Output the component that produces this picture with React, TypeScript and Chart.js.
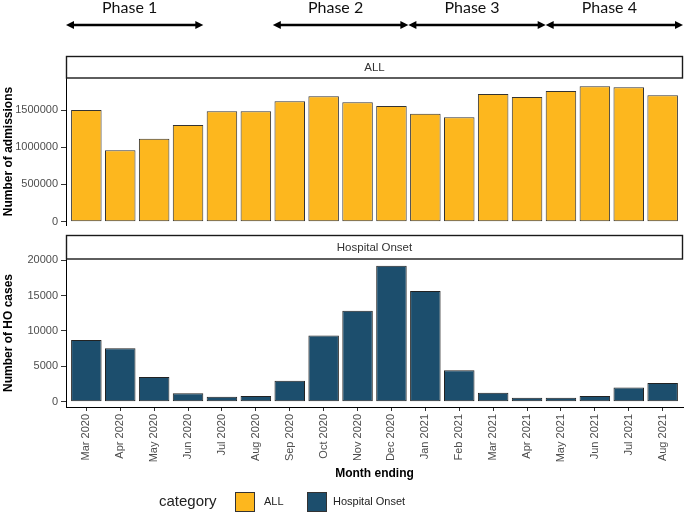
import React, { useEffect, useRef } from 'react';
import { Chart, registerables } from 'chart.js';

Chart.register(...registerables);

const months = [
  'Mar 2020', 'Apr 2020', 'May 2020', 'Jun 2020', 'Jul 2020', 'Aug 2020',
  'Sep 2020', 'Oct 2020', 'Nov 2020', 'Dec 2020', 'Jan 2021', 'Feb 2021',
  'Mar 2021', 'Apr 2021', 'May 2021', 'Jun 2021', 'Jul 2021', 'Aug 2021',
];
const admissions = [
  1500000, 960000, 1115000, 1300000, 1485000, 1485000,
  1620000, 1685000, 1605000, 1555000, 1450000, 1405000,
  1715000, 1675000, 1755000, 1820000, 1805000, 1700000,
];
const hoCases = [
  8700, 7550, 3500, 1200, 700, 800,
  2950, 9350, 12850, 19200, 15650, 4450,
  1250, 550, 550, 800, 2000, 2650,
];
const admissionTicks = [0, 500000, 1000000, 1500000];
const hoTicks = [0, 5000, 10000, 15000, 20000];
const phaseLabels = ['Phase 1', 'Phase 2', 'Phase 3', 'Phase 4'];
const phaseStarts = [-0.6, 5.5, 9.5, 13.55];
const phaseEnds = [3.45, 9.5, 13.55, 17.6];
const legendTitle = 'category';
const legendLabels = ['ALL', 'Hospital Onset'];
const panelLabels = ['ALL', 'Hospital Onset'];

const YELLOW = '#FDB71E';
const BLUE = '#1C4E6D';
const FONT = "'Liberation Sans', Arial, sans-serif";
const TICK_COLOR = '#4d4d4d';

const stripPlugin = (label: string, h: number) => ({
  id: 'strip',
  afterDraw(chart: any) {
    const { ctx, chartArea } = chart;
    const left = chartArea.left;
    const right = chartArea.right;
    const top = chartArea.top - h;
    ctx.save();
    ctx.fillStyle = '#fff';
    ctx.fillRect(left, top, right - left, h);
    ctx.strokeStyle = '#1a1a1a';
    ctx.lineWidth = 1.4;
    ctx.strokeRect(left + 0.5, top + 0.5, right - left - 1, h - 0.5);
    ctx.fillStyle = '#333';
    ctx.font = `11.5px ${FONT}`;
    ctx.textAlign = 'center';
    ctx.textBaseline = 'middle';
    ctx.fillText(label, (left + right) / 2, top + h / 2 + 1);
    ctx.restore();
  },
});

const phasePlugin = {
  id: 'phases',
  afterDraw(chart: any) {
    const { ctx } = chart;
    const xs = chart.scales.x;
    const y = 25;
    ctx.save();
    ctx.strokeStyle = '#000';
    ctx.fillStyle = '#000';
    phaseLabels.forEach((lab, i) => {
      const a = xs.getPixelForValue(phaseStarts[i]);
      const b = xs.getPixelForValue(phaseEnds[i]);
      ctx.lineWidth = 2.5;
      ctx.beginPath();
      ctx.moveTo(a + 4, y);
      ctx.lineTo(b - 4, y);
      ctx.stroke();
      ctx.beginPath();
      ctx.moveTo(a, y);
      ctx.lineTo(a + 8, y - 4);
      ctx.lineTo(a + 8, y + 4);
      ctx.closePath();
      ctx.fill();
      ctx.beginPath();
      ctx.moveTo(b, y);
      ctx.lineTo(b - 8, y - 4);
      ctx.lineTo(b - 8, y + 4);
      ctx.closePath();
      ctx.fill();
      ctx.font = `16px Lato, 'Open Sans', sans-serif`;
      ctx.textAlign = 'center';
      ctx.textBaseline = 'middle';
      ctx.fillStyle = '#111';
      ctx.fillText(lab, (a + b) / 2 - 5, 8);
      ctx.fillStyle = '#000';
    });
    ctx.restore();
  },
};

const legendPlugin = {
  id: 'customLegend',
  afterDraw(chart: any) {
    const { ctx } = chart;
    const cy = 270;
    ctx.save();
    ctx.textBaseline = 'middle';
    ctx.textAlign = 'left';
    ctx.fillStyle = '#222';
    ctx.font = `15px ${FONT}`;
    ctx.fillText(legendTitle, 159, cy);
    const boxes = [
      { x: 235, color: YELLOW, tx: 264 },
      { x: 307, color: BLUE, tx: 333 },
    ];
    boxes.forEach((bx, i) => {
      ctx.fillStyle = bx.color;
      ctx.fillRect(bx.x, cy - 10, 20, 20);
      ctx.strokeStyle = '#333';
      ctx.lineWidth = 1;
      ctx.strokeRect(bx.x + 0.5, cy - 9.5, 19, 19);
      ctx.fillStyle = '#222';
      ctx.font = `11px ${FONT}`;
      ctx.fillText(legendLabels[i], bx.tx, cy);
    });
    ctx.restore();
  },
};

const yAxis = (title: string, min: number, max: number, ticks: number[]) => ({
  type: 'linear',
  min,
  max,
  afterBuildTicks: (s: any) => {
    s.ticks = ticks.map((v) => ({ value: v }));
  },
  afterFit: (s: any) => {
    s.width = 66;
    s.paddingTop = 0;
    s.paddingBottom = 0;
  },
  ticks: {
    color: TICK_COLOR,
    font: { size: 11, family: FONT },
    padding: 3,
    callback: (v: any) => String(v),
  },
  grid: {
    display: true,
    drawOnChartArea: false,
    drawTicks: true,
    tickLength: 5,
    color: '#333',
  },
  border: { display: true, color: '#000', width: 1 },
  title: {
    display: true,
    text: title,
    color: '#000',
    font: { size: 12, weight: 'bold', family: FONT },
    padding: { top: 1, bottom: 0 },
  },
});

export default function App() {
  const topRef = useRef<HTMLCanvasElement | null>(null);
  const botRef = useRef<HTMLCanvasElement | null>(null);

  useEffect(() => {
    const top = new Chart(topRef.current as HTMLCanvasElement, {
      type: 'bar',
      data: {
        datasets: [
          {
            label: 'ALL',
            data: admissions.map((v, i) => ({ x: i, y: v })),
            backgroundColor: YELLOW,
            borderColor: '#333',
            borderWidth: 1,
            borderSkipped: false,
            barPercentage: 0.9,
            categoryPercentage: 1,
          },
        ],
      },
      options: {
        responsive: false,
        animation: false,
        devicePixelRatio: 1,
        layout: { padding: { left: 0, top: 78, right: 2, bottom: 7 } },
        plugins: { legend: { display: false }, tooltip: { enabled: false } },
        scales: {
          x: {
            type: 'linear',
            min: -0.6,
            max: 17.6,
            offset: false,
            display: false,
            grid: { offset: false },
          },
          y: yAxis('Number of admissions', -45000, 1931000, admissionTicks),
        },
      } as any,
      plugins: [stripPlugin(panelLabels[0], 22), phasePlugin],
    });

    const bot = new Chart(botRef.current as HTMLCanvasElement, {
      type: 'bar',
      data: {
        datasets: [
          {
            label: 'Hospital Onset',
            data: hoCases.map((v, i) => ({ x: i, y: v })),
            backgroundColor: BLUE,
            borderColor: '#222',
            borderWidth: 1,
            borderSkipped: false,
            barPercentage: 0.9,
            categoryPercentage: 1,
          },
        ],
      },
      options: {
        responsive: false,
        animation: false,
        devicePixelRatio: 1,
        layout: { padding: { left: 0, top: 27, right: 2, bottom: 26 } },
        plugins: { legend: { display: false }, tooltip: { enabled: false } },
        scales: {
          x: {
            type: 'linear',
            min: -0.6,
            max: 17.6,
            offset: false,
            afterBuildTicks: (s: any) => {
              s.ticks = months.map((_, i) => ({ value: i }));
            },
            afterFit: (s: any) => {
              s.height = 80;
              s.paddingLeft = 0;
              s.paddingRight = 0;
            },
            ticks: {
              autoSkip: false,
              maxRotation: 90,
              minRotation: 90,
              color: TICK_COLOR,
              font: { size: 11, family: FONT },
              padding: 3,
              callback: (v: any) => months[Math.round(Number(v))] ?? '',
            },
            grid: {
              display: true,
              drawOnChartArea: false,
              drawTicks: true,
              tickLength: 4,
              color: '#333',
              offset: false,
            },
            border: { display: true, color: '#000', width: 1 },
            title: {
              display: true,
              text: 'Month ending',
              color: '#000',
              font: { size: 12, weight: 'bold', family: FONT },
              padding: { top: 2, bottom: 6 },
            },
          },
          y: yAxis('Number of HO cases', -750, 20155, hoTicks),
        },
      } as any,
      plugins: [stripPlugin(panelLabels[1], 24), legendPlugin],
    });

    return () => {
      top.destroy();
      bot.destroy();
    };
  }, []);

  return (
    <div
      style={{
        position: 'absolute',
        left: 0,
        top: 0,
        width: 685,
        height: 513,
        background: '#fff',
        overflow: 'hidden',
      }}
    >
      <canvas
        ref={topRef}
        width={685}
        height={232}
        style={{ position: 'absolute', left: 0, top: 0, width: 685, height: 232 }}
      />
      <canvas
        ref={botRef}
        width={685}
        height={281}
        style={{ position: 'absolute', left: 0, top: 232, width: 685, height: 281 }}
      />
    </div>
  );
}
